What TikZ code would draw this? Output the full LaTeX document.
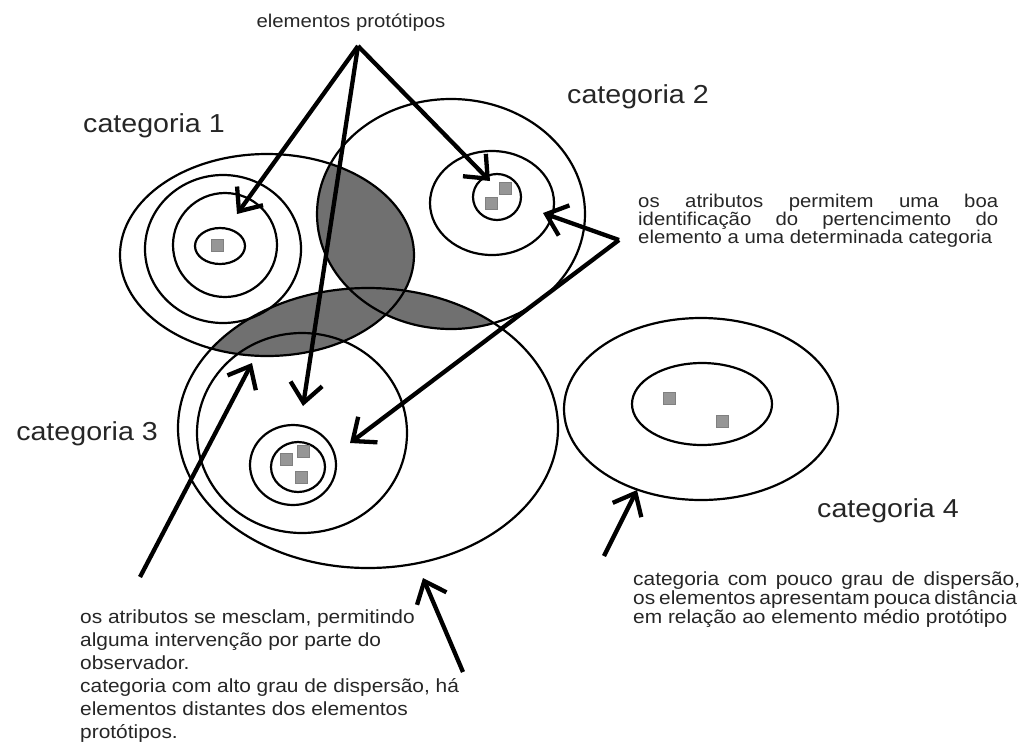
\documentclass[tikz,border=0pt]{standalone}
\usepackage{fontspec}
\setmainfont{Liberation Sans}[FakeStretch=1.1]
\usetikzlibrary{arrows.meta}
\definecolor{shadegray}{RGB}{112,112,112}
\definecolor{sqgray}{RGB}{150,150,150}
\definecolor{txtgray}{RGB}{38,38,38}
\begin{document}
\begin{tikzpicture}[x=1pt,y=-1pt,
  ell/.style={draw=black, line width=2.2pt},
  arr/.style={line width=4.3pt, -{Straight Barb[length=19pt,width=32pt]}},
  sqr/.style={fill=sqgray, draw=sqgray!85!black, line width=0.5pt, minimum size=12pt, inner sep=0pt},
  catlbl/.style={font=\fontsize{26}{30}\selectfont, text=txtgray, inner sep=0pt},
  txtblk/.style={text=txtgray, inner sep=0pt, align=left}
]
\useasboundingbox (0,0) rectangle (1030,742);

% shaded overlaps
\begin{scope}
  \clip (267,255) ellipse [x radius=147pt, y radius=101pt];
  \fill[shadegray] (451,214) ellipse [x radius=134pt, y radius=115pt];
  \fill[shadegray] (368,428) ellipse [x radius=190pt, y radius=140pt];
\end{scope}
\begin{scope}
  \clip (451,214) ellipse [x radius=134pt, y radius=115pt];
  \fill[shadegray] (368,428) ellipse [x radius=190pt, y radius=140pt];
\end{scope}

% categoria 1
\draw[ell] (267,255) ellipse [x radius=147pt, y radius=101pt];
\draw[ell] (223,249) ellipse [x radius=78pt, y radius=74pt];
\draw[ell] (225,245) ellipse [x radius=52pt, y radius=52pt];
\draw[ell] (220,246) ellipse [x radius=25pt, y radius=18pt];
\node[sqr] (s11) at (217,245) {};

% categoria 2
\draw[ell] (451,214) ellipse [x radius=134pt, y radius=115pt];
\draw[ell] (492,203) ellipse [x radius=62pt, y radius=52pt];
\draw[ell] (497,197) ellipse [x radius=24pt, y radius=23pt];
\node[sqr] (s21) at (505,188) {};
\node[sqr] (s22) at (491,203) {};

% categoria 3
\draw[ell] (368,428) ellipse [x radius=190pt, y radius=140pt];
\draw[ell] (302,433) ellipse [x radius=105pt, y radius=100pt];
\draw[ell] (293,465) ellipse [x radius=43pt, y radius=40pt];
\draw[ell] (298,467) ellipse [x radius=27pt, y radius=25pt];
\node[sqr] (s31) at (286,459) {};
\node[sqr] (s32) at (303,451) {};
\node[sqr] (s33) at (301,477) {};

% categoria 4
\draw[ell] (701,409) ellipse [x radius=137pt, y radius=91pt];
\draw[ell] (702,404) ellipse [x radius=70pt, y radius=41pt];
\node[sqr] (s41) at (669,398) {};
\node[sqr] (s42) at (722,421) {};

% labels
\node[catlbl, anchor=base west] (c1) at (83,132) {categoria 1};
\node[catlbl, anchor=base west] (c2) at (567,103) {categoria 2};
\node[catlbl, anchor=base east] (c3) at (158,440) {categoria 3};
\node[catlbl, anchor=base west] (c4) at (817,517) {categoria 4};

\node[text=txtgray, inner sep=0pt, anchor=base, font=\fontsize{18.5}{20}\selectfont] (ep) at (351,27) {elementos protótipos};

% (base anchor of a multi-line node = baseline of its last line)
\node[txtblk, anchor=base west, font=\fontsize{18.5}{17.8}\selectfont] (rt) at (638,243)
  {\makebox[360pt][s]{os atributos permitem uma boa}\\
   \makebox[360pt][s]{identificação do pertencimento do}\\
   elemento a uma determinada categoria};

\node[txtblk, anchor=base west, font=\fontsize{19}{17.7}\selectfont] (brt) at (633,623)
  {\makebox[387pt][s]{categoria com pouco grau de dispersão,}\\
   \makebox[382pt][s]{os elementos apresentam pouca distância}\\
   em relação ao elemento médio protótipo};

\node[txtblk, anchor=base west, font=\fontsize{19}{23}\selectfont] (blt) at (80,738)
  {os atributos se mesclam, permitindo\\
   alguma intervenção por parte do\\
   observador.\\
   categoria com alto grau de dispersão, há\\
   elementos distantes dos elementos\\
   protótipos.};

% arrow endpoints
\coordinate (T) at (358,46);
\coordinate (t1) at (237,214);
\coordinate (t2) at (490,181);
\coordinate (t3) at (303,406);
\coordinate (R) at (619,240);
\coordinate (t4) at (543,213);
\coordinate (t5) at (350,443);
\coordinate (B1) at (140,577);
\coordinate (t6) at (252,363);
\coordinate (B2) at (463,672);
\coordinate (t7) at (423,578);
\coordinate (B3) at (604,556);
\coordinate (t8) at (637,490);

\draw[arr] (T) -- (t1);
\draw[arr] (T) -- (t2);
\draw[arr] (T) -- (t3);
\draw[arr] (R) -- (t4);
\draw[arr] (R) -- (t5);
\draw[arr] (B1) -- (t6);
\draw[arr] (B2) -- (t7);
\draw[arr] (B3) -- (t8);
\end{tikzpicture}
\end{document}
